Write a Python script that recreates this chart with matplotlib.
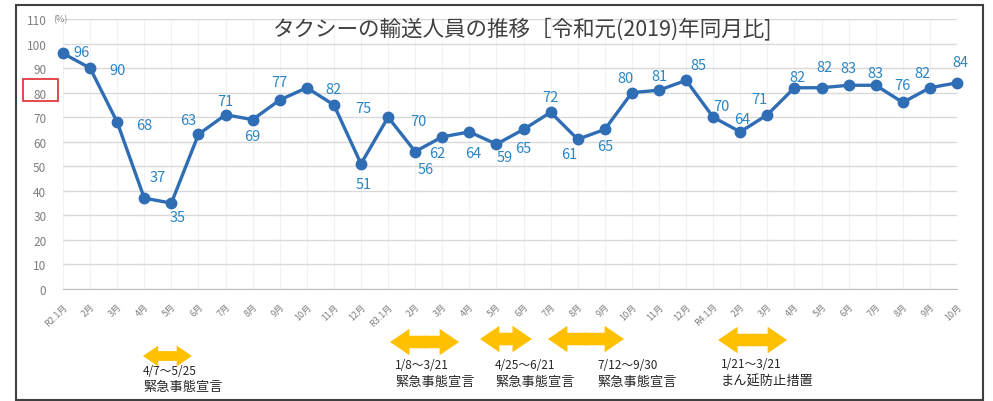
import matplotlib
matplotlib.use('Agg')
import matplotlib.pyplot as plt
from matplotlib.patches import Rectangle

plt.rcParams['font.family'] = ['Noto Sans CJK JP', 'DejaVu Sans']

# ---- data ----
months = (['R2.1月'] + [f'{m}月' for m in range(2, 13)]
          + ['R3.1月'] + [f'{m}月' for m in range(2, 13)]
          + ['R4.1月'] + [f'{m}月' for m in range(2, 11)])
values = [96, 90, 68, 37, 35, 63, 71, 69, 77, 82, 75, 51,
          70, 56, 62, 64, 59, 65, 72, 61, 65, 80, 81, 85,
          70, 64, 71, 82, 82, 83, 83, 76, 82, 84]
yticks = list(range(0, 111, 10))
title = 'タクシーの輸送人員の推移［令和元(2019)年同月比]'

# data label offsets in pixels (dx right, dy down)
label_offsets = [(19, -1), (27, 2), (27, 3), (13, -21), (6, 14), (-10, -14),
                 (0, -14), (0, 16), (0, -18), (27, 1), (29, 3), (3, 20),
                 (30, 4), (11, 17), (-5, 16), (4, 21), (8, 13), (0, 19),
                 (0, -15), (-8, 15), (0, 17), (-6, -15), (0, -14), (12, -15),
                 (8, -11), (2, -13), (-8, -16), (3, -11), (3, -21), (0, -17),
                 (0, -12), (0, -17), (-7, -15), (3, -21)]

period_dates = ['4/7～5/25', '1/8～3/21', '4/25～6/21', '7/12～9/30', '1/21～3/21']
period_names = ['緊急事態宣言', '緊急事態宣言', '緊急事態宣言', '緊急事態宣言', 'まん延防止措置']
# arrow spans in category units (month index), text left, arrow y px from top
period_spans = [(2.95, 4.76), (12.07, 14.62), (15.39, 17.31), (17.90, 20.71), (24.18, 26.73)]
period_text_x = [2.95, 12.26, 15.95, 19.71, 24.29]
period_arrow_y = [357, 343, 340, 340, 341]
period_text_y = [(372, 388), (366, 383), (366, 383), (366, 383), (365, 382)]
period_small = [True, False, False, False, False]

W, H = 993, 402
fig = plt.figure(figsize=(W / 100, H / 100), dpi=100)
ax = fig.add_axes([63 / W, (H - 290) / H, (957 - 63) / W, 270 / H])

x = list(range(len(values)))
ax.plot(x, values, color='#2F6DB5', lw=2.4, marker='o', markersize=7.5,
        clip_on=False, zorder=3)

ax.set_xlim(0, len(values) - 1)
ax.set_ylim(0, 110)
ax.set_yticks(yticks)
ax.set_xticks(x)
ax.set_xticklabels(months, rotation=45, ha='right', va='top',
                   rotation_mode='anchor', fontsize=6.5, color='#7f7f7f')
ax.tick_params(axis='x', length=0, pad=9)
ax.tick_params(axis='y', length=0, pad=12, labelsize=8.5, labelcolor='#7f7f7f')
for s in ['top', 'right', 'left']:
    ax.spines[s].set_visible(False)
ax.spines['bottom'].set_color('#bfbfbf')
ax.grid(axis='y', color='#d9d9d9', lw=1)
ax.grid(axis='x', color='#f2f2f2', lw=0.8)
ax.set_axisbelow(True)

for i, v in enumerate(values):
    dx, dy = label_offsets[i]
    ax.annotate(str(v), (i, v), xytext=(dx, -dy), textcoords='offset pixels',
                ha='center', va='center', fontsize=10.5, color='#2A85C5',
                annotation_clip=False, zorder=4)

fig.text(522 / W, 1 - 29 / H, title, ha='center', va='center',
         fontsize=15.5, color='#404040')
fig.text(53 / W, 1 - 20 / H, '(%)', ha='left', va='center', fontsize=6.5,
         color='#7f7f7f')

# red highlight box around 80 label
fig.add_artist(Rectangle((23 / W, 1 - 102 / H), 35 / W, 22 / H,
                         transform=fig.transFigure, fill=False,
                         ec='#e0393e', lw=1.3))
# outer border
fig.add_artist(Rectangle((16 / W, 1 / H), (983 - 16) / W, (401 - 6) / H,
                         transform=fig.transFigure, fill=False,
                         ec='#404040', lw=1.5))

orange = '#FFC000'
for k, (x0, x1) in enumerate(period_spans):
    yy = H - period_arrow_y[k]
    if period_small[k]:
        hl, hw, tw = 11, 15, 7
    else:
        hl, hw, tw = 14, 19, 9
    style = f'simple,head_length={hl},head_width={hw},tail_width={tw}'
    xm = (x0 + x1) / 2
    for a, b in [(xm - 0.05, x1), (xm + 0.05, x0)]:
        ax.annotate('', xy=(b, yy), xytext=(a, yy),
                    xycoords=('data', 'figure pixels'),
                    textcoords=('data', 'figure pixels'),
                    arrowprops=dict(arrowstyle=style, color=orange, lw=0,
                                    shrinkA=0, shrinkB=0, mutation_scale=1),
                    annotation_clip=False)
    ty1, ty2 = period_text_y[k]
    ax.annotate(period_dates[k], (period_text_x[k], H - ty1),
                xycoords=('data', 'figure pixels'), ha='left', va='center',
                fontsize=8.5, color='#262626', annotation_clip=False)
    ax.annotate(period_names[k], (period_text_x[k], H - ty2),
                xycoords=('data', 'figure pixels'), ha='left', va='center',
                fontsize=9.5, color='#262626', annotation_clip=False)

fig.savefig('out.png', dpi=100)
